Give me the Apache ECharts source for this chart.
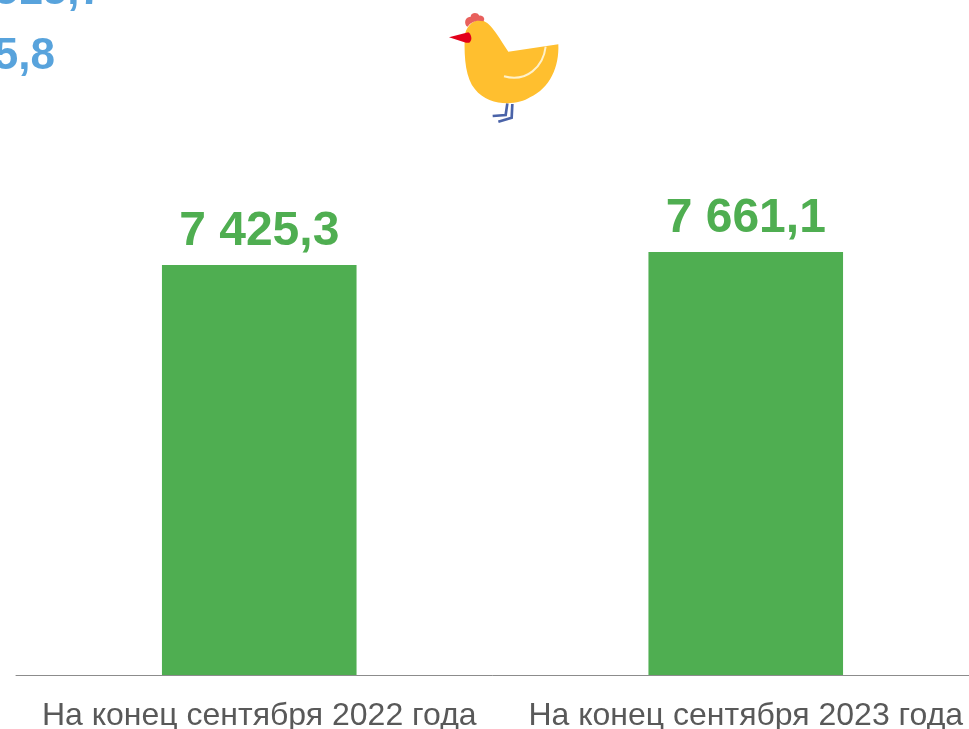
<!DOCTYPE html>
<html><head><meta charset="utf-8">
<style>html,body{margin:0;padding:0;background:#fff;overflow:hidden}#c{width:969px;height:729px}</style>
<script src="https://cdn.jsdelivr.net/npm/echarts@6/dist/echarts.min.js"></script>
</head><body><div id="c"></div>
<script>
const categories = ['На конец сентября 2022 года', 'На конец сентября 2023 года'];
const values = [7425.3, 7661.1];
const labels = ['7 425,3', '7 661,1'];
const clippedLines = ['515,7', '645,8'];
const chart = echarts.init(document.getElementById('c'), null, {renderer: 'canvas'});
const font = '"Liberation Sans", Arial, sans-serif';
const shapes = {
  henLegs: 'M232 310 L227 345 L188 348 M247 312 L245 353 L205 365',
  henComb: 'M109 78 C100 62 110 50 122 50 C122 38 142 35 148 47 C160 45 167 58 160 64 C140 58 122 66 113 80 Z',
  henBody: 'M104 110 C106 85 125 60 150 60 C180 62 205 110 235 155 L385 133 C388 200 360 265 300 292 C262 318 175 320 135 268 C108 235 102 180 104 110 Z',
  henBeak: 'M57 112 L115 97 C125 105 128 120 118 128 L108 128 Z',
  henWing: 'M347 140 C340 200 290 248 222 229'
};
Object.keys(shapes).forEach(k => echarts.graphic.registerShape(k, echarts.graphic.extendPath(shapes[k], {})));
chart.setOption({
  animation: false,
  backgroundColor: '#ffffff',
  grid: {left: 16, width: 973, top: 123, height: 552, containLabel: false, outerBoundsMode: 'none'},
  xAxis: {
    type: 'category', data: categories,
    axisTick: {show: false},
    axisLine: {lineStyle: {color: '#8c8c8c', width: 1}},
    axisLabel: {color: '#595959', fontFamily: font, fontSize: 32, margin: 25, interval: 0, hideOverlap: false}
  },
  yAxis: {type: 'value', min: 0, max: 10000, show: false, splitLine: {show: false}},
  series: [{
    type: 'bar', data: values, barWidth: '40%',
    itemStyle: {color: '#4FAE51'},
    label: {
      show: true, position: 'top', distance: 9,
      formatter: p => labels[p.dataIndex],
      color: '#4FAE51', fontFamily: font, fontWeight: 'bold', fontSize: 48
    }
  }],
  graphic: [
    {type: 'text', x: 104, y: 14, style: {text: clippedLines[0], align: 'right', verticalAlign: 'bottom', fill: '#58A3DC', fontFamily: font, fontWeight: 'bold', fontSize: 44, lineHeight: 44}},
    {type: 'text', x: 55, y: 79, style: {text: clippedLines[1], align: 'right', verticalAlign: 'bottom', fill: '#58A3DC', fontFamily: font, fontWeight: 'bold', fontSize: 44, lineHeight: 44}},
    {type: 'group', x: 430, y: 0, scaleX: 1/3, scaleY: 1/3, children: [
      {type: 'henLegs', style: {fill: 'none', stroke: '#4A63A8', lineWidth: 8}},
      {type: 'henBody', style: {fill: '#FFBF2F'}},
      {type: 'henComb', style: {fill: '#E8605C'}},
      {type: 'henBeak', style: {fill: '#E2001A'}},
      {type: 'henWing', style: {fill: 'none', stroke: '#FFF1C9', lineWidth: 6}}
    ]}
  ]
});
</script></body></html>
